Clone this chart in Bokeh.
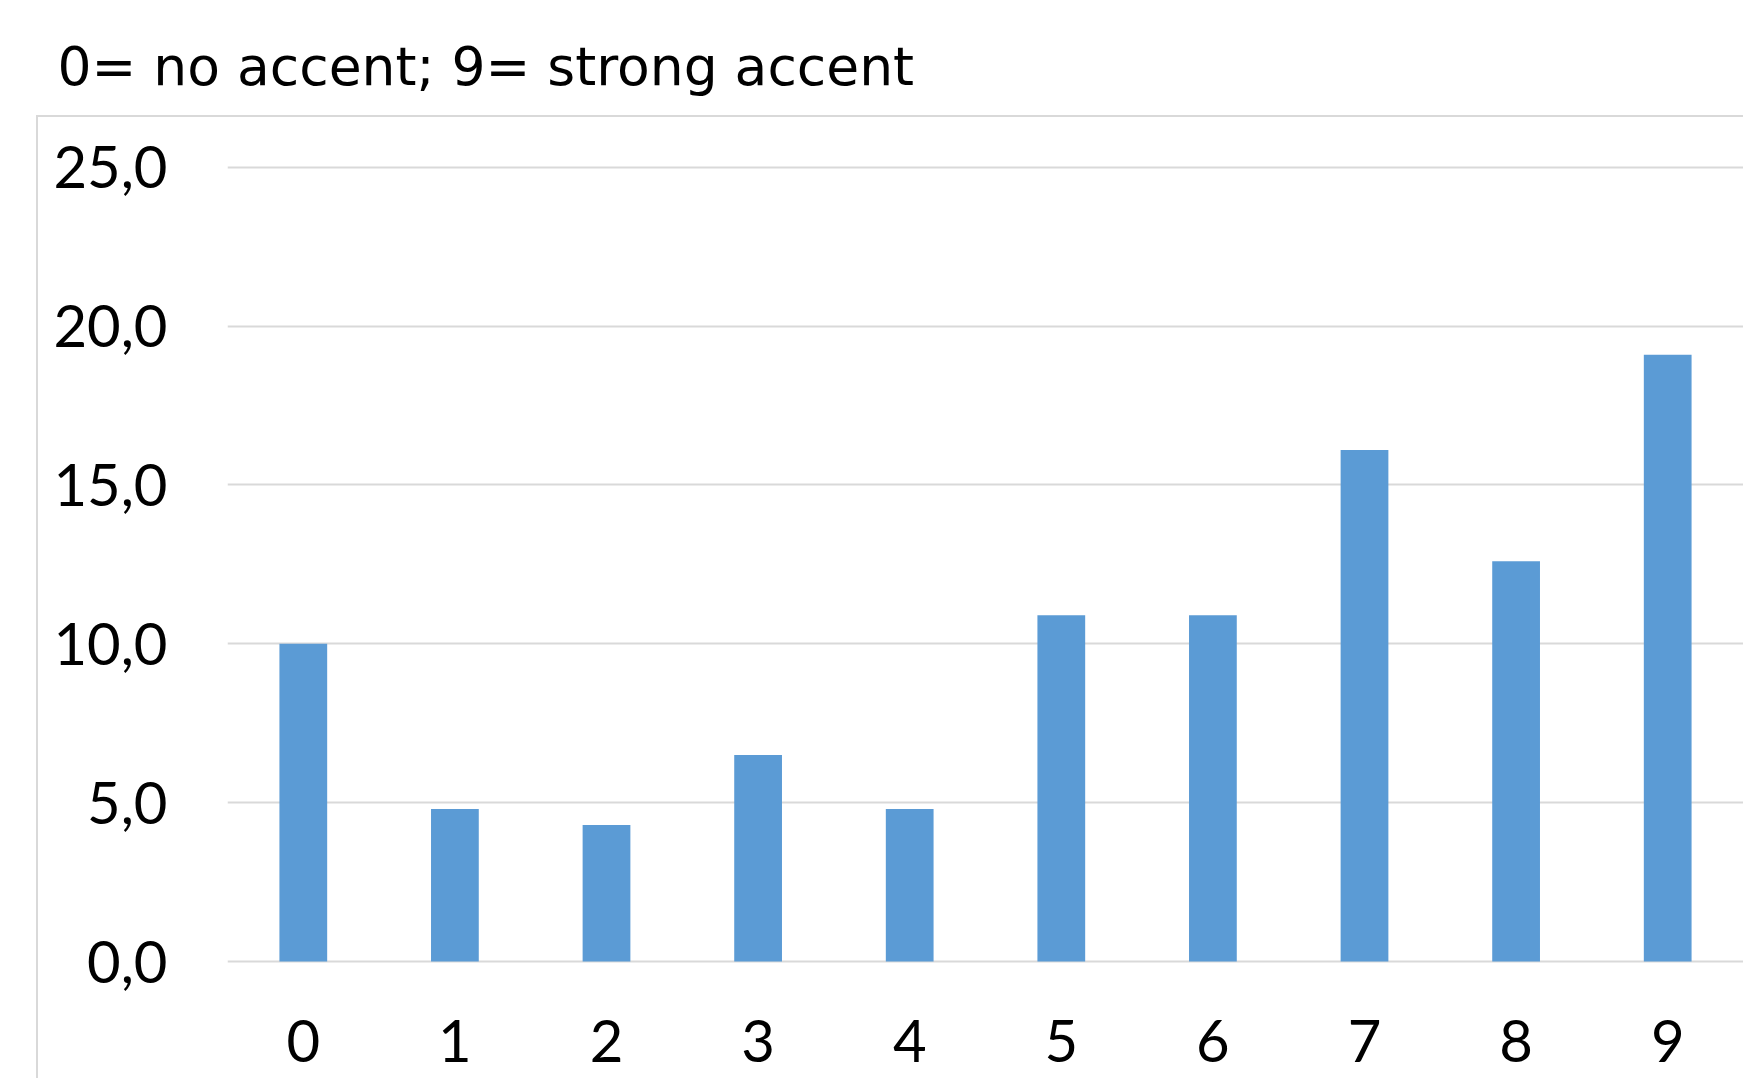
from bokeh.plotting import figure
from bokeh.models import Range1d, FactorRange
from bokeh.layouts import column
from bokeh.embed import file_html
from bokeh.resources import INLINE

categories = ["0", "1", "2", "3", "4", "5", "6", "7", "8", "9"]
values = [10.0, 4.8, 4.3, 6.5, 4.8, 10.9, 10.9, 16.1, 12.6, 19.1]
y_ticks = [0, 5, 10, 15, 20, 25]
y_tick_labels = ["0,0", "5,0", "10,0", "15,0", "20,0", "25,0"]
title_text = "0= no accent; 9= strong accent"

# title strip (sits above the chart's outer border)
t = figure(
    frame_width=1516, frame_height=5,
    min_border_left=227, min_border_right=0,
    min_border_top=110, min_border_bottom=0,
    x_axis_location=None, y_axis_location=None,
    output_backend="svg", toolbar_location=None,
    title=title_text,
)
t.grid.visible = False
t.outline_line_color = None
t.border_fill_color = "white"
t.background_fill_color = "white"
t.title.text_font = "DejaVu Sans"
t.title.text_font_size = "53.5px"
t.title.text_font_style = "normal"
t.title.text_color = "#000000"
t.title.align = "left"
t.title.offset = -170
t.title.standoff = 26

# chart
p = figure(
    x_range=FactorRange(factors=categories, range_padding=0),
    y_range=Range1d(-0.06, 25.15),
    frame_width=1516, frame_height=801,
    min_border_left=227, min_border_right=0,
    min_border_top=47, min_border_bottom=115,
    output_backend="svg", toolbar_location=None,
)
p.vbar(x=categories, top=values, width=0.315, color="#5b9bd5", line_color=None)

p.outline_line_color = None
p.background_fill_color = None
p.border_fill_color = None
p.styles = {
    "background-color": "white",
    "background-image": "linear-gradient(#d9d9d9, #d9d9d9), linear-gradient(#d9d9d9, #d9d9d9)",
    "background-size": "2px 100%, 100% 2px",
    "background-position": "36px 0px, 36px 0px",
    "background-repeat": "no-repeat",
}

for ax in (p.xaxis[0], p.yaxis[0]):
    ax.axis_line_color = None
    ax.major_tick_line_color = None
    ax.minor_tick_line_color = None
    ax.major_tick_out = 0
    ax.major_tick_in = 0
    ax.minor_tick_out = 0
    ax.major_label_text_font = "Lato"
    ax.major_label_text_font_size = "58px"
    ax.major_label_text_color = "#000000"

p.yaxis[0].ticker = y_ticks
p.yaxis[0].major_label_overrides = {t_: l for t_, l in zip(y_ticks, y_tick_labels)}
p.yaxis[0].major_label_standoff = 60
p.xaxis[0].major_label_standoff = 56

p.xgrid.grid_line_color = None
p.ygrid.grid_line_color = "#d9d9d9"
p.ygrid.grid_line_width = 2
p.ygrid.ticker = y_ticks

layout = column(t, p, spacing=0)
open("out.html", "w").write(file_html(layout, INLINE))
